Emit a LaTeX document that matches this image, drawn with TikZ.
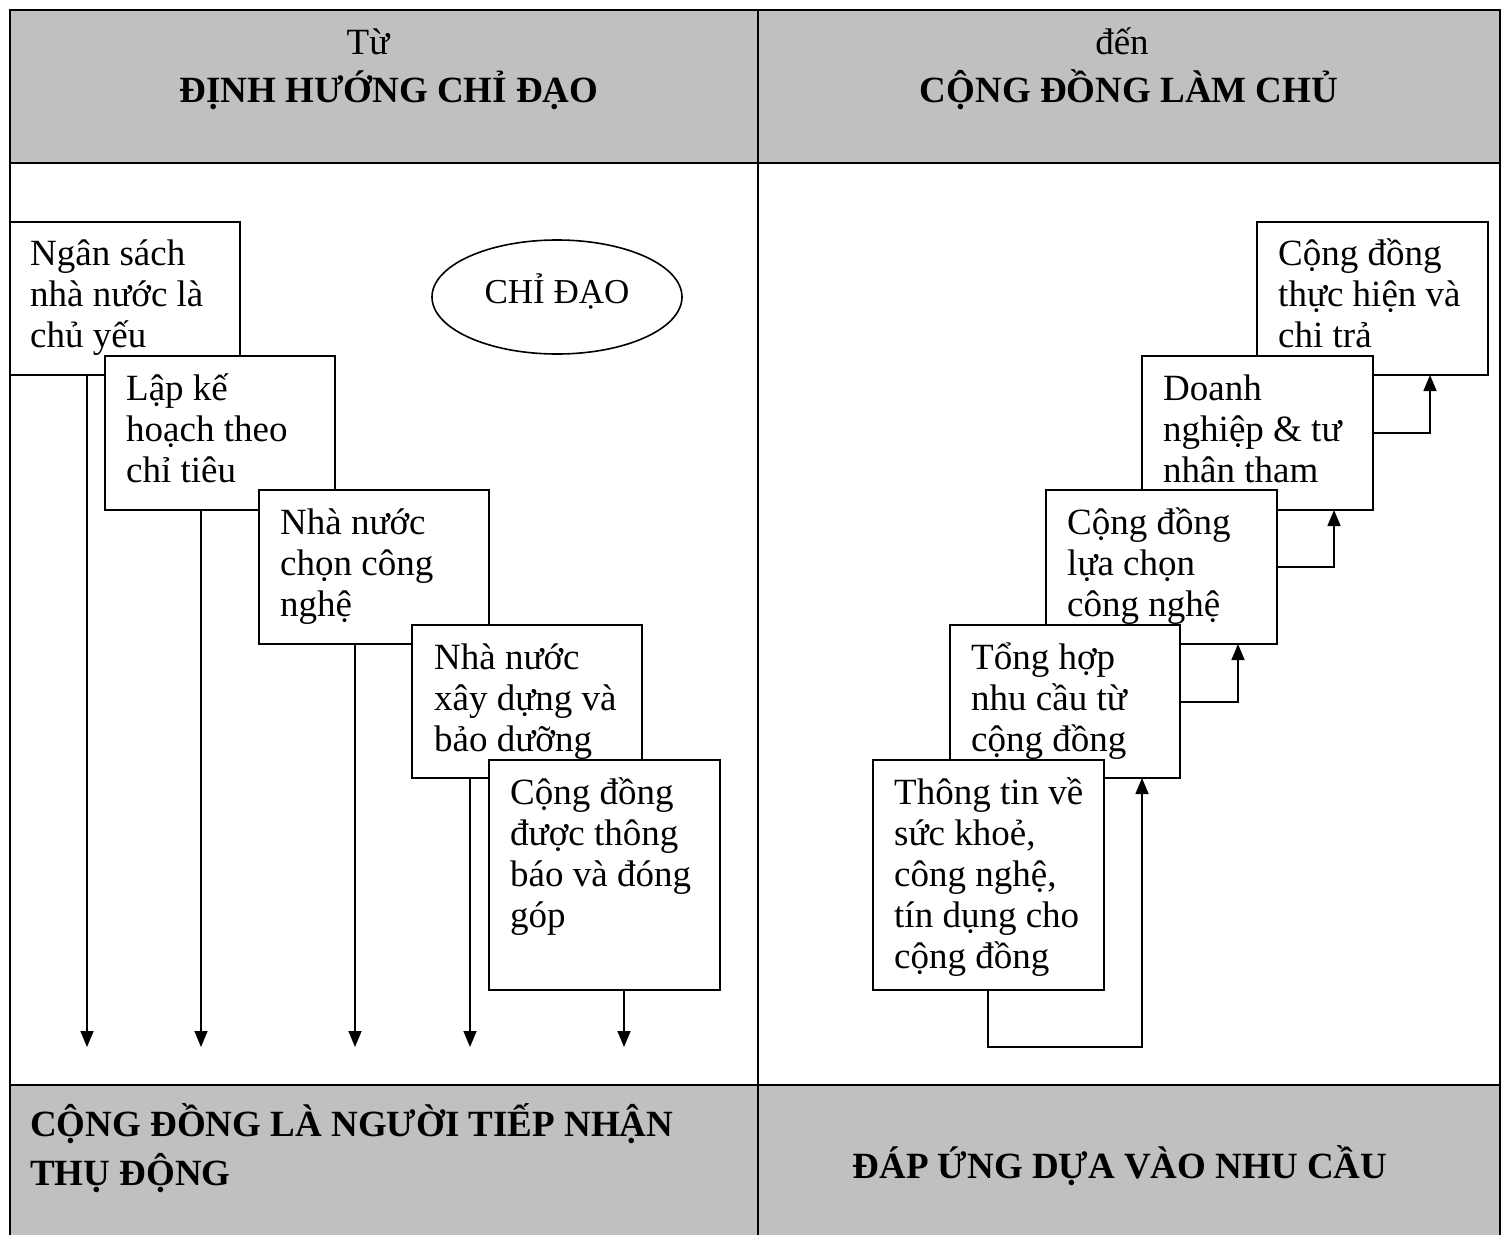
\documentclass[tikz,border=0pt]{standalone}
\usepackage{fontspec}
\setmainfont{Liberation Serif}
\usetikzlibrary{arrows.meta,shapes.geometric}
\definecolor{hdrgray}{RGB}{192,192,192}
\newcommand\normsp{\spaceskip=0pt\xspaceskip=0pt\relax}
\tikzset{
  tbl/.style={line width=2pt},
  box/.style={draw, fill=white, line width=1.6pt, anchor=north west, inner sep=0pt, outer sep=0pt},
  txt/.style={anchor=base west, text width=225pt, inner sep=0pt, font=\fontsize{37}{41}\selectfont},
  hdtxt/.style={anchor=base, inner sep=0pt, font=\fontsize{37}{41}\selectfont},
  hdbold/.style={anchor=base, inner sep=0pt, font=\fontsize{37}{41}\selectfont\bfseries},
  arr/.style={line width=1.6pt, -{Triangle[width=13pt,length=16pt]}},
}
\begin{document}
\begin{tikzpicture}[x=1pt,y=-1pt]
\useasboundingbox (0,0) rectangle (1501,1234);
% table
\fill[hdrgray] (10,10) rectangle (1500,163);
\fill[hdrgray] (10,1085) rectangle (1500,1245);
\draw[tbl] (10,1245) -- (10,10) -- (1500,10) -- (1500,1245);
\draw[tbl] (10,163) -- (1500,163);
\draw[tbl] (10,1085) -- (1500,1085);
\draw[tbl] (758,10) -- (758,1245);
% headers
\node[hdtxt] (h1) at (368,54) {Từ};
\node[hdbold] (h2) at (389,102) {ĐỊNH HƯỚNG CHỈ ĐẠO};
\node[hdtxt] (h3) at (1122,54) {đến};
\node[hdbold] (h4) at (1129,102) {CỘNG ĐỒNG LÀM CHỦ};
% footers
\node[anchor=base west, text width=720pt, inner sep=0pt, font=\fontsize{37}{49}\selectfont\bfseries] (f1) at (30,1136) {\normsp CỘNG ĐỒNG LÀ NGƯỜI TIẾP NHẬN\\THỤ ĐỘNG};
\node[hdbold] (f2) at (1120,1178) {ĐÁP ỨNG DỰA VÀO NHU CẦU};
% ellipse
\node[draw, ellipse, line width=1.6pt, minimum width=250pt, minimum height=114pt, inner sep=0pt] (el) at (557,297) {};
\node[anchor=base, inner sep=0pt, font=\fontsize{35}{40}\selectfont] (elt) at (557,303) {CHỈ ĐẠO};
% left boxes
\node[box, minimum width=230pt, minimum height=153pt] (l1) at (10,222) {};
\node[txt] (l1t) at (30,265) {\normsp Ngân sách\\nhà nước là\\chủ yếu};
\node[box, minimum width=230pt, minimum height=154pt] (l2) at (105,356) {};
\node[txt] (l2t) at (126,400) {\normsp Lập kế\\hoạch theo\\chỉ tiêu};
\node[box, minimum width=230pt, minimum height=154pt] (l3) at (259,490) {};
\node[txt] (l3t) at (280,534) {\normsp Nhà nước\\chọn công\\nghệ};
\node[box, minimum width=230pt, minimum height=153pt] (l4) at (412,625) {};
\node[txt] (l4t) at (434,669) {\normsp Nhà nước\\xây dựng và\\bảo dưỡng};
\node[box, minimum width=231pt, minimum height=230pt] (l5) at (489,760) {};
\node[txt] (l5t) at (510,804) {\normsp Cộng đồng\\được thông\\báo và đóng\\góp};
% left arrows
\coordinate (e1) at (87,1047);
\coordinate (e2) at (201,1047);
\coordinate (e3) at (355,1047);
\coordinate (e4) at (470,1047);
\coordinate (e5) at (624,1047);
\draw[arr] (l1.south -| e1) -- (e1);
\draw[arr] (l2.south -| e2) -- (e2);
\draw[arr] (l3.south -| e3) -- (e3);
\draw[arr] (l4.south -| e4) -- (e4);
\draw[arr] (l5.south -| e5) -- (e5);
% right boxes (top right first)
\node[box, minimum width=231pt, minimum height=153pt] (r5) at (1257,222) {};
\node[txt] (r5t) at (1278,265) {\normsp Cộng đồng\\thực hiện và\\chi trả};
\node[box, minimum width=231pt, minimum height=154pt] (r4) at (1142,356) {};
\node[txt] (r4t) at (1163,400) {\normsp Doanh\\nghiệp \& tư\\nhân tham};
\node[box, minimum width=231pt, minimum height=154pt] (r3) at (1046,490) {};
\node[txt] (r3t) at (1067,534) {\normsp Cộng đồng\\lựa chọn\\công nghệ};
\node[box, minimum width=230pt, minimum height=153pt] (r2) at (950,625) {};
\node[txt] (r2t) at (971,669) {\normsp Tổng hợp\\nhu cầu từ\\cộng đồng};
\node[box, minimum width=231pt, minimum height=230pt] (r1) at (873,760) {};
\node[txt] (r1t) at (894,804) {\normsp Thông tin về\\sức khoẻ,\\công nghệ,\\tín dụng cho\\cộng đồng};
% right connectors
\coordinate (c1) at (988,1047);
\coordinate (c2) at (1142,1047);
\coordinate (c3) at (1238,702);
\coordinate (c4) at (1334,567);
\coordinate (c5) at (1430,433);
\draw[arr] (r1.south -| c1) -- (c1) -- (c2) -- (r2.south -| c2);
\draw[arr] (r2.east |- c3) -- (c3) -- (r3.south -| c3);
\draw[arr] (r3.east |- c4) -- (c4) -- (r4.south -| c4);
\draw[arr] (r4.east |- c5) -- (c5) -- (r5.south -| c5);
\end{tikzpicture}
\end{document}
